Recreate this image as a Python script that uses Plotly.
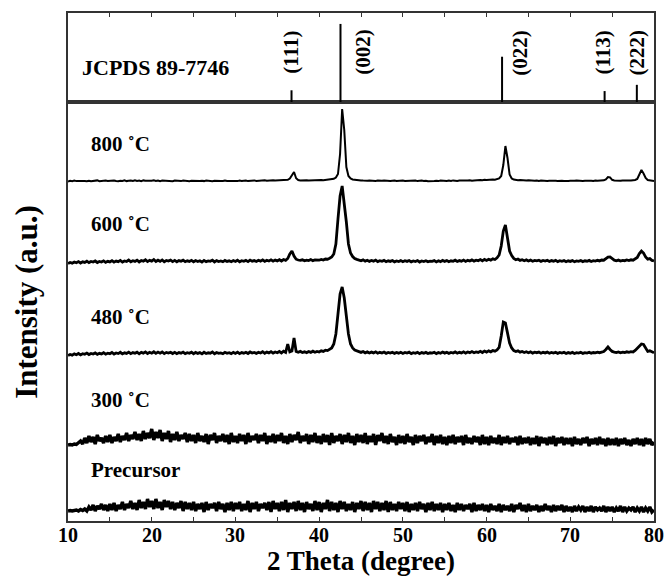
import numpy as np
import plotly.graph_objects as go

# ---------------- data ----------------
two_theta = np.round(np.arange(10, 80.001, 0.25), 2)  # sampling grid (281 points)

# JCPDS 89-7746 reference sticks
ref_pos = [36.7, 42.55, 61.85, 74.1, 77.95]
ref_int = [15, 100, 58, 14, 22]
ref_hkl = ["(111)", "(002)", "(022)", "(113)", "(222)"]
ref_label_x = [36.7, 45.2, 64.05, 73.95, 78.0]

tick_vals = [10, 15, 20, 25, 30, 35, 40, 45, 50, 55, 60, 65, 70, 75, 80]
label_vals = [10, 20, 30, 40, 50, 60, 70, 80]
label_text = ["10", "20", "30", "40", "50", "60", "70", "80"]

names = ["800 ˚C", "600 ˚C", "480 ˚C", "300 ˚C", "Precursor"]
offsets = [339, 257, 165, 76, 10]
label_y = [377, 297, 204, 121, 51]

s800 = [
    0.5,1.2,0.8,1.4,0.9,1.1,0.6,1.5,1.0,0.8,1.3,0.7,1.2,1.0,1.6,0.8,1.1,0.7,1.4,1.0,
    1.2,0.8,1.5,1.0,0.7,1.3,1.1,1.7,0.9,1.2,1.5,1.0,1.8,1.1,1.4,0.9,1.6,1.2,1.0,1.5,
    1.3,1.7,1.1,1.5,0.9,1.4,1.2,1.6,1.0,1.3,0.8,1.5,1.1,1.2,0.9,1.4,1.0,1.3,0.8,1.2,
    1.0,1.4,0.8,1.1,1.3,0.9,1.5,1.0,1.2,0.7,1.3,1.0,1.4,0.9,1.1,1.5,1.0,1.2,0.8,1.3,
    1.1,0.9,1.4,1.0,1.2,1.5,0.9,1.3,1.1,1.6,1.0,1.2,1.4,1.1,1.7,1.2,1.5,1.3,1.8,1.4,
    1.6,1.9,1.5,2.0,1.8,2.2,3.5,6.5,10.0,3.8,2.0,1.6,1.8,1.5,1.7,1.4,1.6,1.8,1.5,1.9,
    1.7,2.0,1.8,2.2,2.1,2.5,2.8,3.2,4.5,8.0,28.0,73.0,52.0,15.0,6.0,3.5,2.6,2.2,1.9,1.7,
    1.6,1.4,1.7,1.3,1.5,1.2,1.6,1.1,1.4,1.0,1.3,1.5,1.1,1.4,0.9,1.2,1.5,1.0,1.3,1.1,
    1.4,1.0,1.2,0.8,1.3,1.1,1.5,0.9,1.2,1.4,1.0,1.3,0.8,1.1,1.4,1.0,1.2,0.9,1.5,1.1,
    1.3,1.0,1.4,1.1,1.6,1.2,1.0,1.5,1.3,1.7,1.2,1.4,1.8,1.3,1.6,1.9,1.5,2.0,1.7,2.2,
    1.9,2.3,2.0,2.4,2.2,2.8,3.5,6.0,17.0,36.0,24.0,7.5,3.5,2.4,2.0,1.7,2.0,1.6,1.8,1.4,
    1.7,1.3,1.6,1.2,1.5,1.0,1.4,1.1,1.3,0.9,1.2,1.4,1.0,1.3,1.1,1.5,1.2,1.0,1.4,1.1,
    1.3,1.0,1.2,1.5,1.1,1.3,0.9,1.2,1.4,1.1,1.3,1.0,1.5,1.2,1.4,1.3,1.7,2.6,5.0,4.6,
    2.2,1.5,1.3,1.6,1.2,1.5,1.3,1.7,1.4,1.6,1.5,2.0,3.0,7.5,12.0,8.5,4.0,2.0,1.5,1.2,1.0,
]

s600 = [
    0.5,1.5,0.8,2.0,1.2,2.4,1.0,2.2,1.6,2.8,1.4,2.5,1.9,3.0,1.5,2.6,2.0,3.2,1.7,2.7,
    2.1,3.4,1.8,2.9,2.3,3.6,2.0,3.1,2.5,4.0,2.2,3.3,2.6,3.8,2.1,3.5,2.8,4.2,2.4,3.6,
    2.9,4.5,2.5,3.8,2.7,4.1,2.3,3.5,2.9,3.9,2.4,3.6,2.2,3.4,2.7,3.8,2.3,3.2,2.6,3.7,
    2.2,3.5,2.5,3.3,2.0,3.6,2.4,3.1,2.7,3.9,2.1,3.4,2.5,3.0,2.2,3.6,2.6,3.2,2.3,3.5,
    2.5,3.8,2.2,3.3,2.7,3.6,2.4,3.9,2.8,3.4,2.5,3.7,2.9,4.1,2.6,3.8,3.0,4.2,2.8,3.9,
    3.1,4.3,3.0,4.5,3.6,5.5,10.0,13.0,8.0,4.8,4.0,3.6,4.2,3.2,3.9,3.4,4.4,3.3,4.0,3.6,
    3.8,4.6,4.0,5.0,4.8,5.8,7.0,10.0,20.0,45.0,68.0,78.0,62.0,42.0,20.0,11.0,7.5,5.5,4.6,4.0,
    3.2,4.1,2.9,3.7,2.6,3.5,2.8,3.9,2.4,3.3,2.7,3.6,2.3,3.2,2.6,3.5,2.2,3.1,2.5,3.4,
    2.3,3.3,2.6,3.5,2.1,3.0,2.4,3.4,2.0,3.1,2.5,3.3,2.2,2.9,2.6,3.4,2.1,3.2,2.4,3.6,
    2.6,3.5,2.3,3.2,2.7,3.8,2.5,3.4,2.8,3.9,2.6,3.7,3.0,4.1,2.9,3.8,3.3,4.4,3.2,4.6,
    3.6,4.8,3.9,5.2,4.5,6.2,9.0,18.0,33.0,39.0,27.0,13.0,8.5,5.6,4.2,5.0,3.6,4.3,3.3,4.1,
    3.0,3.9,2.7,3.6,3.1,3.8,2.6,3.5,2.9,3.7,2.5,3.4,2.8,3.6,2.4,3.3,2.7,3.5,2.3,3.2,
    2.6,3.4,2.3,3.1,2.7,3.5,2.4,3.2,2.8,3.6,2.5,3.3,2.9,3.7,3.1,4.0,3.8,5.2,6.8,7.0,
    5.0,3.8,3.2,3.9,3.0,3.6,3.3,4.0,3.5,4.2,3.8,5.0,6.5,10.5,13.0,11.0,7.0,4.8,5.4,3.6,3.0,
]

s480 = [
    0.5,1.6,0.9,2.1,1.3,2.5,1.1,2.3,1.7,2.9,1.5,2.6,2.0,3.1,1.6,2.7,2.1,3.3,1.8,2.8,
    2.2,3.5,1.9,3.0,2.4,3.7,2.1,3.2,2.6,3.9,2.3,3.4,2.7,3.8,2.2,3.6,2.9,4.1,2.5,3.7,
    2.8,4.2,2.6,3.9,2.8,4.0,2.4,3.6,3.0,3.8,2.5,3.7,2.3,3.5,2.8,3.9,2.4,3.3,2.7,3.8,
    2.3,3.6,2.6,3.4,2.1,3.7,2.5,3.2,2.8,4.0,2.2,3.5,2.6,3.1,2.3,3.7,2.7,3.3,2.4,3.6,
    2.6,3.9,2.3,3.4,2.8,3.7,2.5,4.0,2.9,3.5,2.6,3.8,3.0,4.3,2.7,3.9,3.1,4.4,2.9,4.0,
    3.2,4.5,3.1,4.8,3.6,12.0,4.2,5.0,18.0,4.5,3.8,4.6,3.5,4.2,3.4,4.5,3.6,4.8,3.7,4.6,
    4.0,5.2,4.6,5.8,5.4,6.6,8.0,12.0,22.0,42.0,62.0,69.0,58.0,40.0,22.0,12.0,8.0,6.0,5.0,4.4,
    3.6,4.5,3.2,4.1,3.0,3.9,3.1,4.2,2.8,3.7,3.0,4.0,2.7,3.6,2.9,3.8,2.6,3.5,2.8,3.7,
    2.6,3.6,2.9,3.8,2.4,3.3,2.7,3.7,2.3,3.4,2.8,3.6,2.5,3.2,2.9,3.7,2.4,3.5,2.7,3.9,
    2.9,3.8,2.6,3.5,3.0,4.1,2.8,3.7,3.1,4.2,2.9,4.0,3.3,4.4,3.2,4.1,3.6,4.7,3.5,4.9,
    3.9,5.1,4.2,5.5,4.8,6.0,8.5,20.0,34.0,33.0,22.0,13.0,8.0,5.4,4.4,5.1,3.8,4.5,3.5,4.3,
    3.3,4.1,2.9,3.8,3.3,4.0,2.8,3.7,3.1,3.9,2.7,3.6,3.0,3.8,2.6,3.5,2.9,3.7,2.5,3.4,
    2.8,3.6,2.5,3.3,2.9,3.7,2.6,3.4,3.0,3.8,2.7,3.5,3.1,3.9,3.3,4.2,4.5,6.5,9.0,6.5,
    4.6,3.9,3.4,4.1,3.2,3.8,3.5,4.2,3.7,4.4,4.0,5.5,7.5,10.5,12.0,11.5,7.5,4.6,5.2,3.8,3.2,
]

s300 = [
    0,0.5,0,1,0.5,2,4,1,7,2,9,3,8,1,10,4,7,2,9,3,
    10,2,8,4,11,3,9,5,12,4,10,6,13,5,11,4,14,6,12,7,
    16,5,13,7,15,4,12,6,14,3,11,5,13,4,10,6,12,3,11,4,
    10,2,12,4,9,3,11,1,10,5,12,2,9,4,11,3,10,1,12,3,
    9,2,11,4,10,1,12,3,9,5,11,2,10,4,12,1,9,3,11,2,
    10,4,12,2,9,1,11,3,10,5,13,2,9,4,11,1,10,3,12,2,
    9,1,11,3,10,0,12,2,9,4,11,1,10,3,12,2,9,0,11,3,
    10,2,12,1,9,3,11,0,10,4,12,2,9,1,11,3,8,0,10,2,
    9,1,11,3,8,0,10,2,9,4,10,1,8,3,11,0,9,2,10,1,
    8,0,9,2,10,1,8,3,9,0,10,2,7,1,9,3,8,0,10,1,
    8,0,9,2,7,1,10,0,8,2,9,1,7,3,8,0,9,1,7,2,
    8,0,7,1,9,-1,8,2,7,0,8,1,9,-1,7,2,8,0,7,1,
    7,-1,8,1,6,0,7,2,8,-1,6,1,7,0,8,1,6,-1,7,0,
    6,0,7,-1,6,1,7,0,5,-1,6,1,7,0,6,-1,7,1,6,0,3,
]

s_pre = [
    0,0.5,0,0.5,1,0,1.5,0.5,2,0,4,1,6,0,5,2,7,1,6,0,
    7,1,8,0,6,2,9,1,7,3,10,2,8,1,11,3,9,2,12,4,
    10,2,12,3,9,1,11,4,10,2,9,1,8,3,10,0,9,2,8,1,
    9,0,7,2,8,-1,9,1,7,3,8,0,9,2,7,-1,8,1,9,0,
    8,2,9,0,7,1,10,-1,8,2,9,0,7,3,8,1,9,-1,10,2,
    8,0,9,1,11,-1,8,2,9,0,10,1,8,-1,9,2,7,0,10,1,
    9,-1,8,2,11,0,9,1,8,-1,10,2,9,0,7,1,9,-1,8,2,
    10,0,9,1,8,-1,10,2,9,0,8,1,10,-1,9,1,7,0,9,2,
    8,0,9,-1,7,1,8,0,9,2,7,-1,8,1,9,0,7,1,8,-1,
    7,1,8,0,6,-1,8,1,7,0,6,2,7,-1,8,0,6,1,7,0,
    6,-1,7,1,5,0,7,-1,6,1,5,0,7,-1,6,2,8,0,6,-1,
    7,0,5,1,6,-1,5,0,7,1,5,-1,6,0,5,1,6,-1,5,0,
    4,-1,5,0,4,1,5,-1,4,0,5,-1,4,1,3,0,5,-1,4,0,
    4,-1,3,0,5,-1,4,0,3,1,4,-1,3,0,4,-1,3,0,4,-1,1,
]

series = [s800, s600, s480, s300, s_pre]
widths = [2.0, 2.8, 2.8, 3.4, 3.4]
for s in series:
    assert len(s) == len(two_theta), (len(s), len(two_theta))

# ---------------- figure ----------------
FONT = "Liberation Serif"
fig = go.Figure()

for s, off, w in zip(series, offsets, widths):
    fig.add_trace(go.Scatter(
        x=two_theta, y=np.array(s, dtype=float) + off, mode="lines",
        line=dict(color="black", width=w), xaxis="x", yaxis="y",
        showlegend=False, hoverinfo="skip"))

sx, sy = [], []
for p, h in zip(ref_pos, ref_int):
    sx += [p, p, None]
    sy += [0, h, None]
fig.add_trace(go.Scatter(x=sx, y=sy, mode="lines", line=dict(color="black", width=2),
                         xaxis="x2", yaxis="y2", showlegend=False, hoverinfo="skip"))

ann = []
for lx, t in zip(ref_label_x, ref_hkl):
    ann.append(dict(x=lx, y=0.56, xref="x2", yref="y2 domain", text=t, showarrow=False,
                    textangle=-90, xanchor="center", yanchor="middle",
                    font=dict(family=FONT, size=21, color="black", weight="bold")))
ann.append(dict(x=0.02, y=0.39, xref="paper", yref="y2 domain", text="JCPDS 89-7746",
                showarrow=False, xanchor="left", yanchor="middle",
                font=dict(family=FONT, size=22, color="black", weight="bold")))
for n, ly in zip(names, label_y):
    ann.append(dict(x=0.036, y=ly, xref="paper", yref="y", text=n, showarrow=False,
                    xanchor="left", yanchor="middle",
                    font=dict(family=FONT, size=21, color="black", weight="bold")))
for v, t in zip(label_vals, label_text):
    ann.append(dict(x=v, y=-0.0276, xref="x", yref="paper", text=t, showarrow=False,
                    xanchor="center", yanchor="middle",
                    font=dict(family=FONT, size=20, color="black", weight="bold")))
ann.append(dict(x=0.5, y=-0.0785, xref="paper", yref="paper", text="2 Theta (degree)",
                showarrow=False, xanchor="center", yanchor="middle",
                font=dict(family=FONT, size=27, color="black", weight="bold")))
ann.append(dict(x=-0.072, y=0.431, xref="paper", yref="paper", text="Intensity (a.u.)",
                showarrow=False, textangle=-90, xanchor="center", yanchor="middle",
                font=dict(family=FONT, size=31, color="black", weight="bold")))

axcol = "#333333"
fig.update_layout(
    width=667, height=581,
    margin=dict(l=68, r=11, t=13, b=60),
    paper_bgcolor="white", plot_bgcolor="white",
    annotations=ann,
    xaxis=dict(domain=[0, 1], range=[10, 80], anchor="y",
               showline=True, linecolor=axcol, linewidth=1.5, mirror=True,
               ticks="inside", ticklen=4, tickwidth=1.2, tickcolor=axcol,
               tickvals=tick_vals, showticklabels=False, showgrid=False, zeroline=False),
    yaxis=dict(domain=[0, 0.8248], range=[0, 419], anchor="x",
               showline=True, linecolor=axcol, linewidth=1.5, mirror=True,
               ticks="", showticklabels=False, showgrid=False, zeroline=False),
    xaxis2=dict(domain=[0, 1], range=[10, 80], anchor="y2", side="top",
                showline=True, linecolor=axcol, linewidth=1.5, mirror=True,
                ticks="inside", ticklen=4, tickwidth=1.2, tickcolor=axcol,
                tickvals=tick_vals, showticklabels=False, showgrid=False, zeroline=False),
    yaxis2=dict(domain=[0.8248, 1], range=[0, 114], anchor="x2",
                showline=True, linecolor=axcol, linewidth=1.5, mirror=True,
                ticks="", showticklabels=False, showgrid=False, zeroline=False),
)

# remove the browser's default 8 px page margin so the 667x581 figure fills the window
fig.write_html("out.html",
               config={"displayModeBar": False},
               post_script="document.body.style.margin='0';document.body.style.overflow='hidden';")
